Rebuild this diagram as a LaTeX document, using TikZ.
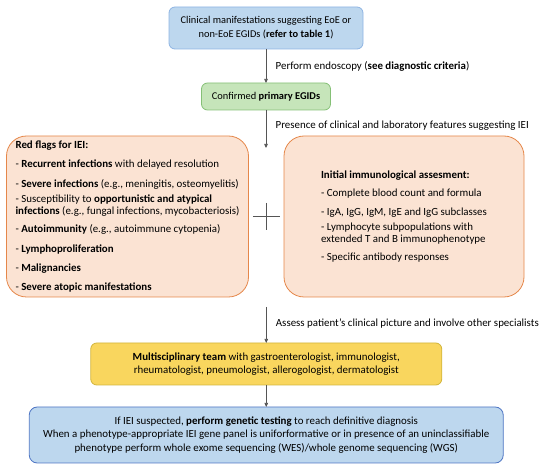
\documentclass[tikz,border=0pt]{standalone}
\usepackage{fontspec}
\setmainfont{Carlito}
\usepackage{tikz}
\usetikzlibrary{arrows.meta,positioning,calc}
\usepackage{xcolor}
\definecolor{bluefill}{HTML}{BDD7EE}
\definecolor{blueline}{HTML}{8EB4E3}
\definecolor{darkblue}{HTML}{4F76C4}
\definecolor{greenfill}{HTML}{C6E5BA}
\definecolor{greenline}{HTML}{85C076}
\definecolor{peachfill}{HTML}{FBE3D3}
\definecolor{peachline}{HTML}{E5874A}
\definecolor{yellowfill}{HTML}{F9D65E}
\definecolor{yellowline}{HTML}{D2B53C}
\definecolor{linegray}{HTML}{555555}

\begin{document}
\begin{tikzpicture}[x=1pt,y=1pt,
node distance=34pt and 35pt,
box/.style={rectangle,draw,rounded corners=6pt,align=center,inner sep=2pt,outer sep=0pt,line width=0.8pt,font=\fontsize{10.9}{13}\selectfont},
flag/.style={box,rounded corners=20pt,align=left,fill=peachfill,draw=peachline,minimum height=161pt,font=\fontsize{10.9}{12.5}\selectfont},
arr/.style={-{Triangle[length=4pt,width=3.5pt]},draw=linegray,line width=0.7pt},
lbl/.style={right=6pt,align=left,font=\fontsize{10.9}{13}\selectfont}
]
\useasboundingbox (0,0) rectangle (550,-473);

\node[box,fill=bluefill,draw=blueline,minimum width=194pt,minimum height=42pt,font=\fontsize{10.4}{14}\selectfont] (clinical) at (266,-28) {Clinical manifestations suggesting EoE or\\non-EoE EGIDs (\textbf{refer to table 1})};
\node[box,fill=greenfill,draw=greenline,minimum width=129pt,minimum height=27pt,below=34pt of clinical,font=\fontsize{10.4}{13}\selectfont] (egids) {Confirmed \textbf{primary EGIDs}};
\node[flag,minimum width=242pt,below left=26pt and 17.5pt of egids.south] (redflags) {\textbf{Red flags for IEI:}\\[6.5pt]
- \textbf{Recurrent infections} with delayed resolution\\[7pt]
- \textbf{Severe infections} (e.g., meningitis, osteomyelitis)\\[2.5pt]
- Susceptibility to \textbf{opportunistic and atypical}\\
\textbf{infections} (e.g., fungal infections, mycobacteriosis)\\[5.5pt]
- \textbf{Autoimmunity} (e.g., autoimmune cytopenia)\\[7pt]
- \textbf{Lymphoproliferation}\\[6.5pt]
- \textbf{Malignancies}\\[6.5pt]
- \textbf{Severe atopic manifestations}};
\node[flag,minimum width=240pt,below right=26pt and 18pt of egids.south] (immuno) {\textbf{Initial immunological assesment:}\\[5.5pt]
- Complete blood count and formula\\[6.5pt]
- IgA, IgG, IgM, IgE and IgG subclasses\\[2.5pt]
- Lymphocyte subpopulations with\\
extended T and B immunophenotype\\[5.5pt]
- Specific antibody responses};

\coordinate[below=38pt of egids.south] (flagin);
\coordinate (cross) at ($(redflags.east)!0.5!(immuno.west)$);
\coordinate (flagout) at ($(redflags.south east)!0.5!(immuno.south west)+(0,-10pt)$);

\node[box,fill=yellowfill,draw=yellowline,minimum width=351pt,minimum height=42pt,below=36pt of flagout,font=\fontsize{10.9}{12.5}\selectfont] (team) {\textbf{Multisciplinary team} with gastroenterologist, immunologist,\\rheumatologist, pneumologist, allerogologist, dermatologist};
\node[box,fill=bluefill,draw=darkblue,rounded corners=8pt,minimum width=474pt,minimum height=56pt,below=22pt of team,font=\fontsize{10.9}{13.5}\selectfont] (genetic) {If IEI suspected, \textbf{perform genetic testing} to reach definitive diagnosis\\
When a phenotype-appropriate IEI gene panel is uniforformative or in presence of an uninclassifiable\\
phenotype perform whole exome sequencing (WES)/whole genome sequencing (WGS)};

\draw[arr] (clinical) -- node[lbl]{Perform endoscopy (\textbf{see diagnostic criteria})} (egids);
\draw[arr] (egids) -- node[lbl,pos=0.4]{Presence of clinical and laboratory features suggesting IEI} (flagin);
\draw[linegray,line width=0.7pt] ($(cross)+(-13.5pt,0)$) -- ($(cross)+(13.5pt,0)$);
\draw[linegray,line width=0.7pt] ($(cross)+(0,13.5pt)$) -- ($(cross)+(0,-13.5pt)$);
\draw[arr] (flagout) -- node[lbl,pos=0.45]{Assess patient’s clinical picture and involve other specialists} (team);
\draw[arr] (team) -- (genetic);
\end{tikzpicture}
\end{document}
